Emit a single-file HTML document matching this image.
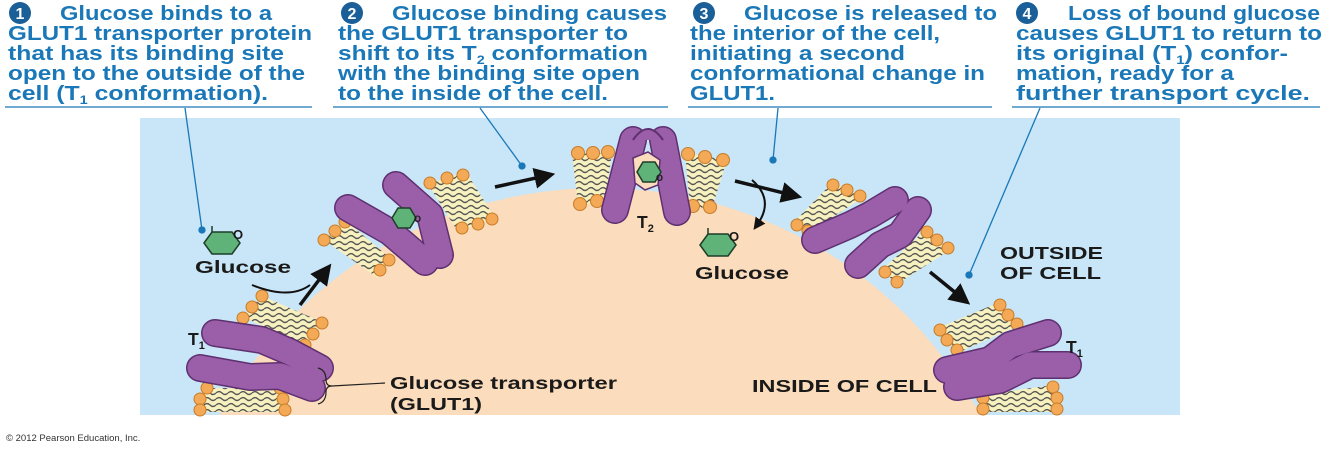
<!DOCTYPE html>
<html><head><meta charset="utf-8"><style>
html,body{margin:0;padding:0;background:#fff;width:1334px;height:451px;overflow:hidden;}
svg{display:block;position:absolute;left:0;top:0;}
.t{font-family:"Liberation Sans",Arial,sans-serif;font-weight:bold;font-size:20.5px;fill:#1a78b8;}
.k{font-family:"Liberation Sans",Arial,sans-serif;font-weight:bold;fill:#1a1a1a;}
</style></head><body>
<svg width="1334" height="451" viewBox="0 0 1334 451" xmlns="http://www.w3.org/2000/svg">
<defs>
<pattern id="tails" width="12" height="6" patternUnits="userSpaceOnUse">
<rect width="12" height="6" fill="#f7f1bf"/>
<path d="M0 3 Q3 0 6 3 T12 3" stroke="#555" stroke-width="1.3" fill="none"/>
</pattern>
<clipPath id="bx"><rect x="140" y="118" width="1040" height="297"/></clipPath>
<marker id="ah" markerWidth="6" markerHeight="6" refX="3" refY="3" orient="auto" markerUnits="strokeWidth"><path d="M0 0 L6 3 L0 6 z" fill="#111"/></marker>
</defs>
<rect x="140" y="118" width="1040" height="297" fill="#c8e6f7"/>
<g clip-path="url(#bx)">
<circle cx="600" cy="620" r="432" fill="#fbdcbc"/>
</g>

<g stroke="none">
<polygon points="262,296 322,322 305,345 243,317" fill="url(#tails)"/>
<polygon points="207,388 280,388 285,412 200,412" fill="url(#tails)"/>
<polygon points="345,220 390,258 378,278 324,240" fill="url(#tails)"/>
<polygon points="428,184 466,172 495,218 458,232" fill="url(#tails)"/>
<polygon points="572,153 612,153 605,202 578,205" fill="url(#tails)"/>
<polygon points="685,153 727,160 712,208 690,207" fill="url(#tails)"/>
<polygon points="833,182 862,198 810,232 793,223" fill="url(#tails)"/>
<polygon points="925,230 950,250 897,284 882,270" fill="url(#tails)"/>
<polygon points="1000,302 1020,325 957,353 938,328" fill="url(#tails)"/>
<polygon points="983,395 1053,385 1060,412 983,412" fill="url(#tails)"/>
</g>
<g fill="#f3a955" stroke="#c77c2a" stroke-width="1">
<circle cx="262" cy="296" r="6"/><circle cx="252" cy="307" r="6"/><circle cx="243" cy="318" r="6"/>
<circle cx="322" cy="323" r="6"/><circle cx="313" cy="334" r="6"/><circle cx="305" cy="345" r="6"/>
<circle cx="207" cy="388" r="6"/><circle cx="200" cy="399" r="6"/><circle cx="200" cy="410" r="6"/>
<circle cx="280" cy="388" r="6"/><circle cx="283" cy="399" r="6"/><circle cx="285" cy="410" r="6"/>
<circle cx="345" cy="222" r="6"/><circle cx="335" cy="231" r="6"/><circle cx="324" cy="240" r="6"/>
<circle cx="389" cy="260" r="6"/><circle cx="380" cy="270" r="6"/>
<circle cx="430" cy="183" r="6"/><circle cx="447" cy="178" r="6"/><circle cx="463" cy="175" r="6"/>
<circle cx="462" cy="228" r="6"/><circle cx="478" cy="224" r="6"/><circle cx="492" cy="219" r="6"/>
<circle cx="578" cy="153" r="6.5"/><circle cx="593" cy="153" r="6.5"/><circle cx="608" cy="152" r="6.5"/>
<circle cx="580" cy="204" r="6.5"/><circle cx="597" cy="201" r="6.5"/>
<circle cx="688" cy="154" r="6.5"/><circle cx="705" cy="157" r="6.5"/><circle cx="723" cy="160" r="6.5"/>
<circle cx="693" cy="206" r="6.5"/><circle cx="710" cy="207" r="6.5"/>
<circle cx="833" cy="185" r="6"/><circle cx="847" cy="190" r="6"/><circle cx="860" cy="196" r="6"/>
<circle cx="797" cy="225" r="6"/><circle cx="808" cy="231" r="6"/>
<circle cx="927" cy="232" r="6"/><circle cx="937" cy="240" r="6"/><circle cx="948" cy="248" r="6"/>
<circle cx="885" cy="272" r="6"/><circle cx="897" cy="282" r="6"/>
<circle cx="1000" cy="305" r="6"/><circle cx="1008" cy="315" r="6"/><circle cx="1017" cy="324" r="6"/>
<circle cx="940" cy="330" r="6"/><circle cx="947" cy="340" r="6"/><circle cx="957" cy="350" r="6"/>
<circle cx="983" cy="398" r="6"/><circle cx="983" cy="409" r="6"/>
<circle cx="1053" cy="387" r="6"/><circle cx="1057" cy="398" r="6"/><circle cx="1057" cy="409" r="6"/>
</g>

<g fill="none" stroke-linecap="round" stroke-linejoin="round">
<g stroke="#5e3070" stroke-width="28">
<polyline points="215,333 262,340 290,352 320,368"/>
<polyline points="200,368 250,377 280,376 312,388"/>
<polyline points="348,208 390,232 425,262"/>
<polyline points="396,185 430,215 440,255"/>
<polyline points="633,140 615,210"/><polyline points="663,140 677,212"/>
<polyline points="815,240 850,225 870,215 895,200"/>
<polyline points="918,210 900,235 880,245 858,265"/>
<polyline points="947,370 990,360 1010,345 1048,333"/>
<polyline points="957,387 1000,380 1030,365 1068,365"/>
</g>
<g stroke="#9a5fa8" stroke-width="25">
<polyline points="215,333 262,340 290,352 320,368"/>
<polyline points="200,368 250,377 280,376 312,388"/>
<polyline points="348,208 390,232 425,262"/>
<polyline points="396,185 430,215 440,255"/>
<polyline points="633,140 615,210"/><polyline points="663,140 677,212"/>
<polyline points="815,240 850,225 870,215 895,200"/>
<polyline points="918,210 900,235 880,245 858,265"/>
<polyline points="947,370 990,360 1010,345 1048,333"/>
<polyline points="957,387 1000,380 1030,365 1068,365"/>
</g>
</g>
<path d="M633 140 Q648 118 663 140" fill="#9a5fa8" stroke="#5e3070" stroke-width="2"/>
<path d="M633 158 L648 152 L660 160 L658 185 L645 190 L635 183 z" fill="#fbdcbc" stroke="#5e3070" stroke-width="1.5"/>

<g fill="#5fb378" stroke="#1d3d28" stroke-width="1.5">
<polygon points="204,243 212,232 232,232 240,243 232,254 212,254"/>
<polygon points="700,245 708,234 728,234 736,245 728,256 708,256"/>
<polygon points="392,218 398,208 410,208 416,218 410,228 398,228"/>
<polygon points="637,172 643,162 655,162 661,172 655,182 643,182"/>
</g>
<g class="k" font-size="13"><text x="233" y="239">O</text><text x="729" y="241">O</text></g>
<g class="k" font-size="9"><text x="414" y="222">O</text><text x="656" y="181">O</text></g>
<line x1="212" y1="232" x2="212" y2="226" stroke="#1d3d28" stroke-width="1.5"/>
<line x1="708" y1="234" x2="708" y2="228" stroke="#1d3d28" stroke-width="1.5"/>

<g stroke="#111" stroke-width="3.5" fill="none">
<path d="M252 285 Q290 300 310 285" stroke-width="2"/>
<line x1="300" y1="305" x2="325" y2="272" marker-end="url(#ah)"/>
<line x1="495" y1="187" x2="545" y2="176" marker-end="url(#ah)"/>
<line x1="735" y1="181" x2="792" y2="195" marker-end="url(#ah)"/>
<line x1="930" y1="272" x2="962" y2="298" marker-end="url(#ah)"/>
<path d="M752 180 Q775 200 757 225" stroke-width="2" marker-end="url(#ah)"/>
</g>

<g stroke="#1a78b8" stroke-width="1.3" fill="#1a78b8">
<line x1="185" y1="108" x2="202" y2="230"/><circle cx="202" cy="230" r="3"/>
<line x1="480" y1="108" x2="522" y2="166"/><circle cx="522" cy="166" r="3"/>
<line x1="778" y1="108" x2="773" y2="160"/><circle cx="773" cy="160" r="3"/>
<line x1="1040" y1="108" x2="969" y2="275"/><circle cx="969" cy="275" r="3"/>
<line x1="5" y1="107" x2="312" y2="107"/>
<line x1="333" y1="107" x2="668" y2="107"/>
<line x1="688" y1="107" x2="992" y2="107"/>
<line x1="1012" y1="107" x2="1320" y2="107"/>
</g>

<path d="M318 368 Q326 370 326 380 Q326 386 332 386 Q326 386 326 392 Q326 402 318 404" fill="none" stroke="#222" stroke-width="1.2"/>
<line x1="332" y1="386" x2="385" y2="383" stroke="#222" stroke-width="1.2"/>

<g class="k" font-size="17.5">
<text x="195" y="273" textLength="96" lengthAdjust="spacingAndGlyphs">Glucose</text>
<text x="695" y="279" textLength="94" lengthAdjust="spacingAndGlyphs">Glucose</text>
<text x="390" y="389" textLength="227" lengthAdjust="spacingAndGlyphs">Glucose transporter</text>
<text x="390" y="410" textLength="92" lengthAdjust="spacingAndGlyphs">(GLUT1)</text>
<text x="1000" y="259" textLength="103" lengthAdjust="spacingAndGlyphs">OUTSIDE</text>
<text x="1000" y="279" textLength="101" lengthAdjust="spacingAndGlyphs">OF CELL</text>
<text x="752" y="392" textLength="185" lengthAdjust="spacingAndGlyphs">INSIDE OF CELL</text>
<text x="188" y="345">T<tspan font-size="11" dy="4">1</tspan></text>
<text x="637" y="228">T<tspan font-size="11" dy="4">2</tspan></text>
<text x="1066" y="353">T<tspan font-size="11" dy="4">1</tspan></text>
</g>

<g fill="#1a5f98">
<circle cx="20" cy="13" r="11"/><circle cx="352" cy="13" r="11"/><circle cx="704" cy="13" r="11"/><circle cx="1027" cy="13" r="11"/>
</g>
<g font-family="Liberation Sans,Arial,sans-serif" font-weight="bold" font-size="16" fill="#fff" text-anchor="middle">
<text x="20" y="19">1</text><text x="352" y="19">2</text><text x="704" y="19">3</text><text x="1027" y="19">4</text>
</g>

<g class="t">
<text x="60" y="20" textLength="212" lengthAdjust="spacingAndGlyphs">Glucose binds to a</text>
<text x="8" y="40" textLength="304" lengthAdjust="spacingAndGlyphs">GLUT1 transporter protein</text>
<text x="8" y="60" textLength="276" lengthAdjust="spacingAndGlyphs">that has its binding site</text>
<text x="8" y="80" textLength="297" lengthAdjust="spacingAndGlyphs">open to the outside of the</text>
<text x="8" y="100" textLength="260" lengthAdjust="spacingAndGlyphs">cell (T<tspan font-size="12" dy="4">1</tspan><tspan dy="-4"> conformation).</tspan></text>

<text x="392" y="20" textLength="275" lengthAdjust="spacingAndGlyphs">Glucose binding causes</text>
<text x="338" y="40" textLength="290" lengthAdjust="spacingAndGlyphs">the GLUT1 transporter to</text>
<text x="338" y="60" textLength="310" lengthAdjust="spacingAndGlyphs">shift to its T<tspan font-size="12" dy="4">2</tspan><tspan dy="-4"> conformation</tspan></text>
<text x="338" y="80" textLength="302" lengthAdjust="spacingAndGlyphs">with the binding site open</text>
<text x="338" y="100" textLength="270" lengthAdjust="spacingAndGlyphs">to the inside of the cell.</text>

<text x="744" y="20" textLength="253" lengthAdjust="spacingAndGlyphs">Glucose is released to</text>
<text x="690" y="40" textLength="250" lengthAdjust="spacingAndGlyphs">the interior of the cell,</text>
<text x="690" y="60" textLength="215" lengthAdjust="spacingAndGlyphs">initiating a second</text>
<text x="690" y="80" textLength="295" lengthAdjust="spacingAndGlyphs">conformational change in</text>
<text x="690" y="100" textLength="85" lengthAdjust="spacingAndGlyphs">GLUT1.</text>

<text x="1068" y="20" textLength="252" lengthAdjust="spacingAndGlyphs">Loss of bound glucose</text>
<text x="1016" y="40" textLength="306" lengthAdjust="spacingAndGlyphs">causes GLUT1 to return to</text>
<text x="1016" y="60" textLength="272" lengthAdjust="spacingAndGlyphs">its original (T<tspan font-size="12" dy="4">1</tspan><tspan dy="-4">) confor-</tspan></text>
<text x="1016" y="80" textLength="218" lengthAdjust="spacingAndGlyphs">mation, ready for a</text>
<text x="1016" y="100" textLength="294" lengthAdjust="spacingAndGlyphs">further transport cycle.</text>
</g>

<text x="6" y="441" font-family="Liberation Sans,Arial,sans-serif" font-size="9.5" fill="#333">© 2012 Pearson Education, Inc.</text>
</svg>
</body></html>
